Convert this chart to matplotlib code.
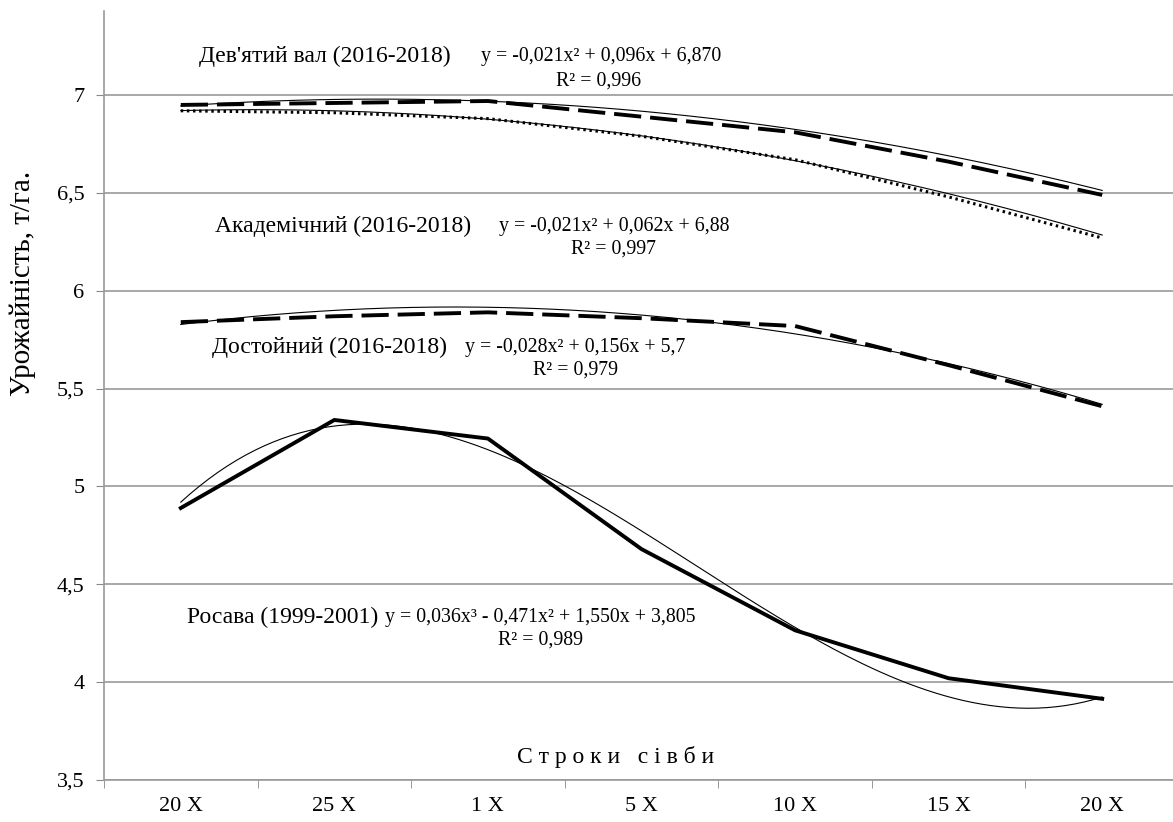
import matplotlib.pyplot as plt
import numpy as np

plt.rcParams["font.family"] = ["Liberation Serif", "DejaVu Serif"]

# sowing dates (categories)
dates = ["20 X", "25 X", "1 X", "5 X", "10 X", "15 X", "20 X"]

# yields, t/ha
dev_val = [6.95, 6.96, 6.97, 6.89, 6.81, 6.66, 6.49]
akadem = [6.92, 6.91, 6.88, 6.79, 6.67, 6.48, 6.27]
dostoyn = [5.84, 5.87, 5.89, 5.86, 5.82, 5.62, 5.41]
rosava = [4.89, 5.34, 5.245, 4.68, 4.265, 4.02, 3.915]

# trend coefficients (highest power first), as printed on chart
dev_val_fit = [-0.021, 0.096, 6.870]
akadem_fit = [-0.021, 0.062, 6.88]
dostoyn_fit = [-0.028, 0.156, 5.7]
rosava_fit = [0.036, -0.471, 1.550, 3.805]

fig = plt.figure(figsize=(11.73, 8.22), dpi=100)
ax = fig.add_axes([104 / 1173, 42 / 822, 1075 / 1173, 769 / 822])

x = np.arange(len(dates))
xs = np.linspace(0, len(dates) - 1, 200)

# trendlines: thin solid
for coefs in (dev_val_fit, akadem_fit, dostoyn_fit, rosava_fit):
    ax.plot(xs, np.polyval(coefs, xs + 1), color="black", lw=0.8, zorder=3)

ax.plot(x, dev_val, color="black", lw=2.8, dashes=(7, 2.3), zorder=4)
ax.plot(x, akadem, color="black", lw=2.2, dashes=(0.8, 1.2), zorder=4)
ax.plot(x, dostoyn, color="black", lw=2.8, dashes=(7, 2.3), zorder=4)
ax.plot(x, rosava, color="black", lw=2.8, solid_joinstyle="round", zorder=4)

ax.set_xlim(-0.5, len(dates) - 0.5)
ax.set_ylim(3.5, 7.43)
ax.set_yticks([3.5, 4, 4.5, 5, 5.5, 6, 6.5, 7])
ax.set_yticklabels(["3,5", "4", "4,5", "5", "5,5", "6", "6,5", "7"], fontsize=16)
ax.set_xticks(x)
ax.set_xticklabels(dates, fontsize=16)
ax.set_xticks(np.arange(-0.5, len(dates), 1), minor=True)
ax.tick_params(axis="x", which="major", length=0, pad=12)
ax.tick_params(axis="x", which="minor", length=6, color="#888888")
ax.tick_params(axis="y", length=6, color="#888888", pad=8)
ax.grid(axis="y", color="#999999", lw=1.2)
ax.set_axisbelow(True)
for s in ("top", "right"):
    ax.spines[s].set_visible(False)
for s in ("left", "bottom"):
    ax.spines[s].set_color("#999999")
    ax.spines[s].set_linewidth(1.2)

ax.set_ylabel("Урожайність, т/га.", fontsize=21)
ax.yaxis.set_label_coords(-0.063, 0.646)

ax.text(2.83, 3.62, "С т р о к и   с і в б и", fontsize=17, ha="center", va="center")

ax.text(0.12, 7.2, "Дев'ятий вал (2016-2018)", fontsize=17, va="center")
ax.text(2.74, 7.2, "y = -0,021x² + 0,096x + 6,870", fontsize=14.3, ha="center", va="center")
ax.text(2.72, 7.07, "R² = 0,996", fontsize=14.3, ha="center", va="center")

ax.text(0.22, 6.33, "Академічний (2016-2018)", fontsize=17, va="center")
ax.text(2.82, 6.33, "y = -0,021x² + 0,062x + 6,88", fontsize=14.3, ha="center", va="center")
ax.text(2.82, 6.214, "R² = 0,997", fontsize=14.3, ha="center", va="center")

ax.text(0.2, 5.709, "Достойний (2016-2018)", fontsize=17, va="center")
ax.text(2.57, 5.709, "y = -0,028x² + 0,156x + 5,7", fontsize=14.3, ha="center", va="center")
ax.text(2.57, 5.597, "R² = 0,979", fontsize=14.3, ha="center", va="center")

ax.text(0.04, 4.33, "Росава (1999-2001)", fontsize=17, va="center")
ax.text(2.34, 4.33, "y = 0,036x³ - 0,471x² + 1,550x + 3,805", fontsize=14.3, ha="center", va="center")
ax.text(2.34, 4.214, "R² = 0,989", fontsize=14.3, ha="center", va="center")

fig.savefig("out.png", dpi=100)
